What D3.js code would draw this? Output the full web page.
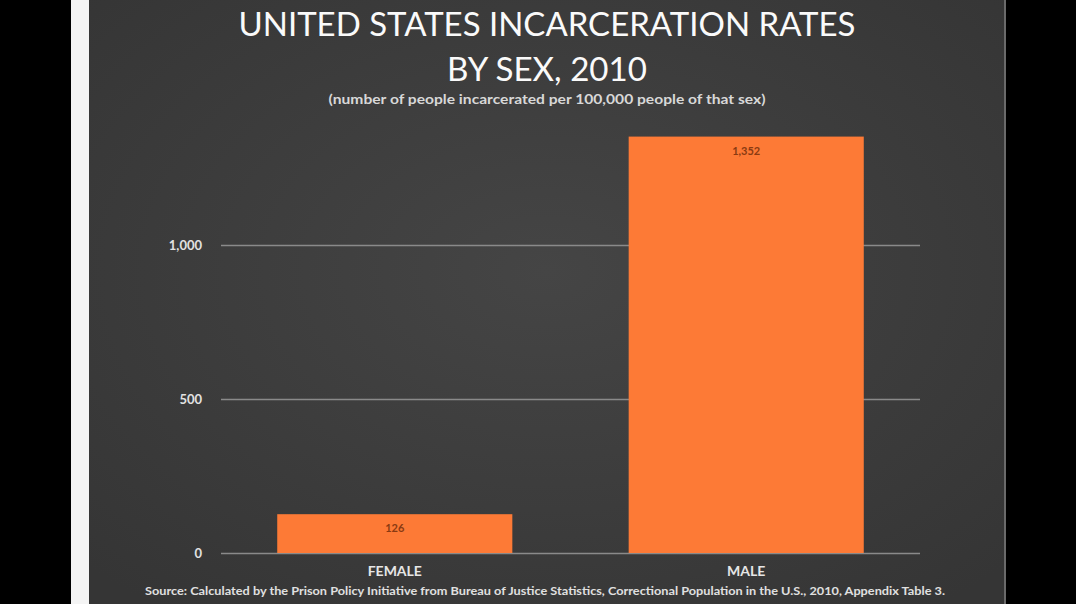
<!DOCTYPE html>
<html><head><meta charset="utf-8">
<script src="https://cdn.jsdelivr.net/npm/d3@7"></script>
<style>body{margin:0;background:#000;overflow:hidden}svg{display:block}</style>
</head><body>
<svg id="c" width="1076" height="604"></svg>
<script>
const categories = ["FEMALE", "MALE"];
const values = [126, 1352];
const valueLabels = ["126", "1,352"];
const tickValues = [0, 500, 1000];
const tickLabels = ["0", "500", "1,000"];
const titleLines = ["UNITED STATES INCARCERATION RATES", "BY SEX, 2010"];
const subtitle = "(number of people incarcerated per 100,000 people of that sex)";
const source = "Source: Calculated by the Prison Policy Initiative from Bureau of Justice Statistics, Correctional Population in the U.S., 2010, Appendix Table 3.";

const svg = d3.select("#c");
const FONT = "Lato, 'Open Sans', sans-serif";

// frame
svg.append("rect").attr("width",1076).attr("height",604).attr("fill","#000");
svg.append("rect").attr("x",71).attr("y",0).attr("width",18).attr("height",604).attr("fill","#f4f4f4");
const defs = svg.append("defs");
const rg = defs.append("radialGradient").attr("id","bg").attr("cx","50%").attr("cy","45%").attr("r","70%");
rg.append("stop").attr("offset","0%").attr("stop-color","#454545");
rg.append("stop").attr("offset","100%").attr("stop-color","#353535");
svg.append("rect").attr("x",89).attr("y",0).attr("width",915).attr("height",604).attr("fill","url(#bg)");
svg.append("rect").attr("x",1004).attr("y",0).attr("width",2).attr("height",604).attr("fill","#6a6a6a");

const left = 221, right = 920;
const y = d3.scaleLinear().domain([0, 1000]).range([553, 245]);
const x = d3.scaleBand().domain(categories).range([left, right]).paddingInner(0.331).paddingOuter(0.16);

// gridlines
const yAxis = d3.axisLeft(y).tickValues(tickValues).tickSize(-(right-left)).tickFormat((d,i)=>tickLabels[i]);
const ga = svg.append("g").attr("transform",`translate(${left},0)`).call(yAxis);
ga.select(".domain").remove();
ga.selectAll(".tick line").attr("stroke","#8a8a8a").attr("stroke-width",1.5);
ga.selectAll(".tick text").attr("x",-19).attr("fill","#e2e2e2")
  .style("font-family",FONT).style("font-size","13px").style("font-weight","bold");

// bars
svg.selectAll(".bar").data(values).join("rect")
  .attr("x",(d,i)=>x(categories[i])).attr("width",x.bandwidth())
  .attr("y",d=>y(d)).attr("height",d=>y(0)-y(d))
  .attr("fill","#fd7a36");

svg.selectAll(".vl").data(values).join("text")
  .attr("x",(d,i)=>x(categories[i])+x.bandwidth()/2).attr("y",d=>y(d)+18)
  .attr("text-anchor","middle").attr("fill","#8a3a12")
  .style("font-family",FONT).style("font-size","11px").style("font-weight","bold")
  .text((d,i)=>valueLabels[i]);

// x labels
const xAxis = d3.axisBottom(x).tickSize(0).tickPadding(0);
const gx = svg.append("g").attr("transform",`translate(0,${y(0)})`).call(xAxis);
gx.select(".domain").remove();
gx.selectAll(".tick text").attr("dy",0).attr("y",23).attr("fill","#e6e6e6")
  .style("font-family",FONT).style("font-size","14px").style("font-weight","bold");

// titles
svg.append("text").attr("x",547).attr("y",36).attr("text-anchor","middle").attr("fill","#fafafa")
  .style("font-family",FONT).style("font-size","32px").attr("textLength",617).attr("lengthAdjust","spacingAndGlyphs").text(titleLines[0]);
svg.append("text").attr("x",547).attr("y",81).attr("text-anchor","middle").attr("fill","#fafafa")
  .style("font-family",FONT).style("font-size","32px").attr("textLength",200).attr("lengthAdjust","spacingAndGlyphs").text(titleLines[1]);
svg.append("text").attr("x",547).attr("y",104).attr("text-anchor","middle").attr("fill","#d8d8d8")
  .style("font-family",FONT).style("font-size","13px").style("font-weight","bold").attr("textLength",437).attr("lengthAdjust","spacingAndGlyphs").text(subtitle);
svg.append("text").attr("x",545).attr("y",595).attr("text-anchor","middle").attr("fill","#e0e0e0")
  .style("font-family",FONT).style("font-size","12px").style("font-weight","bold").attr("textLength",800).attr("lengthAdjust","spacingAndGlyphs").text(source);
</script>
</body></html>
